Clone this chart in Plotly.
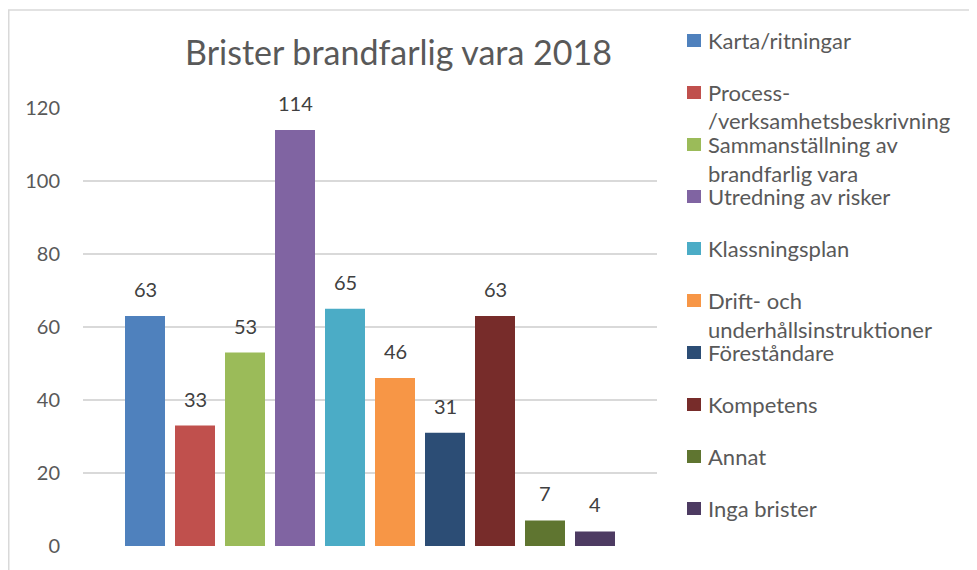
import plotly.graph_objects as go

# Data
labels = [
    "Karta/ritningar",
    "Process-\n/verksamhetsbeskrivning",
    "Sammanställning av\nbrandfarlig vara",
    "Utredning av risker",
    "Klassningsplan",
    "Drift- och\nunderhållsinstruktioner",
    "Föreståndare",
    "Kompetens",
    "Annat",
    "Inga brister",
]
values = [63, 33, 53, 114, 65, 46, 31, 63, 7, 4]
colors = ["#4F81BD", "#C0504D", "#9BBB59", "#8064A2", "#4BACC6",
          "#F79646", "#2C4D75", "#772C2A", "#5F7530", "#4D3B62"]
y_ticks = [0, 20, 40, 60, 80, 100, 120]
title = "Brister brandfarlig vara 2018"

FONT = "Lato"
GRAY = "#595959"

# the page body adds an 8px margin, so lay out in page pixels minus 8
OFF = 8
W, H = 977 - OFF, 570 - OFF
L, R, T, B = 83 - OFF, 657 - OFF, 108 - OFF, 546 - OFF


def to_paper(x, y):
    # x, y are page pixels as measured on the reference
    return (x - OFF - L) / (R - L), (B - (y - OFF)) / (B - T)


names = [lab.replace("\n", "") for lab in labels]

fig = go.Figure()
for name, val, col in zip(names, values, colors):
    fig.add_trace(go.Bar(x=[name], y=[val], name=name, marker_color=col,
                         marker_line_width=0, showlegend=False))

annotations = []
# data labels above bars
for name, val in zip(names, values):
    annotations.append(dict(x=name, y=val, text=str(val), showarrow=False,
                            yanchor="bottom", yshift=13,
                            font=dict(family=FONT, size=20, color="#404040")))

# hand-made legend to copy the Excel layout
shapes = []
for i, (lab, col) in enumerate(zip(labels, colors)):
    yc = 40.5 + 52 * i
    x0, y0 = to_paper(687, yc + 6.5)
    x1, y1 = to_paper(701, yc - 6.5)
    shapes.append(dict(type="rect", xref="paper", yref="paper",
                       x0=x0, x1=x1, y0=y0, y1=y1,
                       fillcolor=col, line_width=0))
    for k, line in enumerate(lab.split("\n")):
        tx, ty = to_paper(706, yc + 28.5 * k)
        annotations.append(dict(xref="paper", yref="paper", x=tx, y=ty,
                                text=line, showarrow=False,
                                xanchor="left", yanchor="middle",
                                font=dict(family=FONT, size=22, color=GRAY)))

# chart border (left edge as close to the page edge as the canvas allows)
bx0, by1 = to_paper(OFF + 0.75, 10)
shapes.append(dict(type="rect", xref="paper", yref="paper",
                   x0=bx0, x1=2, y0=-0.3, y1=by1,
                   line=dict(color="#D9D9D9", width=1.5), layer="below"))

fig.update_layout(
    width=W, height=H,
    margin=dict(l=L, r=W - R, t=T, b=H - B),
    paper_bgcolor="white", plot_bgcolor="white",
    barmode="overlay", bargap=0.2,
    title=dict(text=title, x=(398.5 - OFF) / W, y=1 - (53.5 - OFF) / H,
               xanchor="center", yanchor="middle",
               font=dict(family=FONT, size=34, color=GRAY)),
    xaxis=dict(categoryorder="array", categoryarray=names,
               range=[-1.24, len(names) - 1 + 1.24],
               showticklabels=False, showgrid=False, zeroline=False,
               showline=False),
    yaxis=dict(range=[0, 120], tickvals=y_ticks, showgrid=True,
               gridcolor="#D9D9D9", gridwidth=1.5, zeroline=False,
               showline=False, ticklabelstandoff=22,
               tickfont=dict(family=FONT, size=20, color=GRAY)),
    annotations=annotations,
    shapes=shapes,
)

fig.write_html("out.html")
